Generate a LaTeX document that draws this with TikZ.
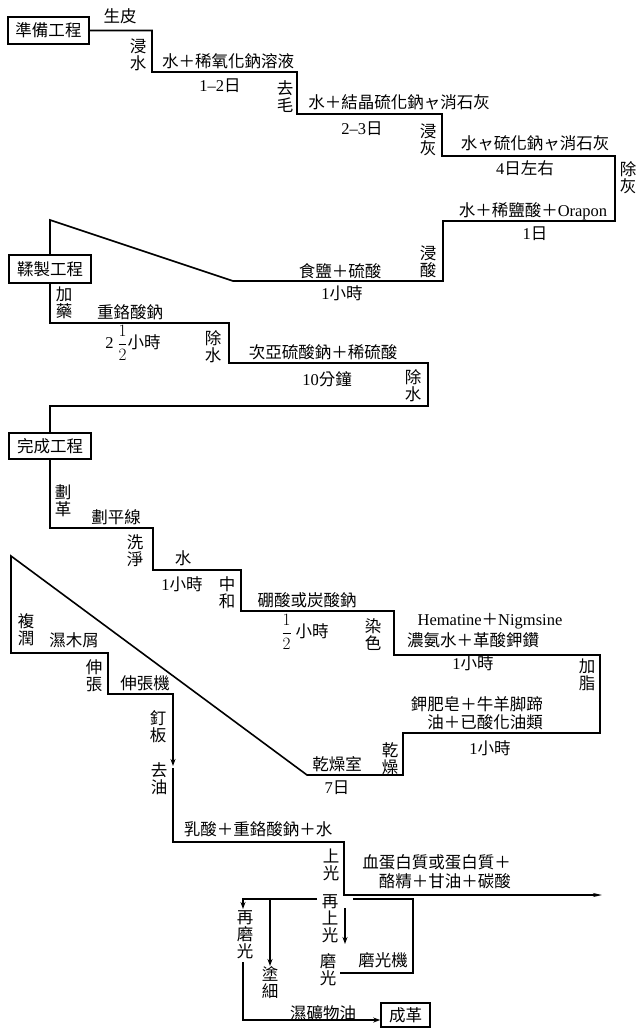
\documentclass[tikz,border=0pt]{standalone}
\usepackage{fontspec}
\setmainfont{Noto Sans CJK TC}
\newfontfamily\latf{Liberation Serif}
\usetikzlibrary{arrows.meta}
\begin{document}
\begin{tikzpicture}[x=1pt,y=-1pt,
  every node/.style={font=\fontsize{16.5}{17}\selectfont, inner sep=0pt},
  ln/.style={line width=1.6pt, line join=miter},
  arr/.style={ln, -{Stealth[length=7pt,width=5pt]}},
  procbox/.style={draw, line width=1.5pt, minimum height=27pt},
  vl/.style={align=center}]
\useasboundingbox (0,0) rectangle (638,1028);

% process boxes
\node[procbox, minimum width=81pt] (prep) at (48.5,30.5) {準備工程};
\node[procbox, minimum width=82pt, minimum height=28pt] (roll) at (50,269) {鞣製工程};
\node[procbox, minimum width=82pt, minimum height=26pt] (fin) at (50,446) {完成工程};
\node[procbox, minimum width=49pt, minimum height=24pt] (cheng) at (405.5,1015) {成革};

% main step lines
\draw[ln] (prep.east) -- (152,30.5) -- (152,72) -- (297,72) -- (297,114) -- (442,114)
  -- (442,156) -- (615,156) -- (615,221) -- (443,221) -- (443,281) -- (233,281)
  -- (50,220) -- (roll.north);
\draw[ln] (roll.south) -- (50,323) -- (229,323) -- (229,363) -- (428,363) -- (428,406)
  -- (50,406) -- (fin.north);
\draw[arr] (fin.south) -- (50,528) -- (153,528) -- (153,570) -- (241,570) -- (241,611)
  -- (394,611) -- (394,655) -- (600,655) -- (600,733) -- (403,733) -- (403,775)
  -- (307,775) -- (11,556) -- (11,653) -- (108,653) -- (108,694) -- (173,694) -- (173,766);
\draw[ln, -{Stealth[length=9pt,width=4pt]}] (173,768) -- (173,842) -- (344,842) -- (344,895) -- (602,895);

% lower branch
\draw[arr] (317,899) -- (243,899) -- (243,909);
\draw[arr] (270,899) -- (270,966);
\draw[ln] (353,899) -- (413,899) -- (413,973) -- (340,973);
\draw[arr] (345,908) -- (345,944);
\coordinate (q) at (243,1020);
\draw[arr] (243,962) -- (q) -- (q -| cheng.west);

% labels: preparation
\node (t1) at (120,16) {生皮};
\node[vl] (t2) at (138,55) {浸\\水};
\node (t3) at (228,61) {水＋稀氧化鈉溶液};
\node (t4) at (220,86) {{\latf 1–2}日};
\node[vl] (t5) at (285,97) {去\\毛};
\node (t6) at (399,102) {水＋結晶硫化鈉ャ消石灰};
\node (t7) at (362,129) {{\latf 2–3}日};
\node[vl] (t8) at (428,140) {浸\\灰};
\node (t9) at (535,143) {水ャ硫化鈉ャ消石灰};
\node (t10) at (525,168) {{\latf 4}日左右};
\node[vl] (t11) at (628,178) {除\\灰};
\node (t12) at (533,211) {水＋稀鹽酸＋{\latf Orapon}};
\node (t13) at (535,234) {{\latf 1}日};
\node[vl] (t14) at (428,262) {浸\\酸};
\node (t15) at (340,271) {食鹽＋硫酸};
\node (t16) at (342,293) {{\latf 1}小時};

% labels: tanning
\node[vl] (t17) at (64,303) {加\\藥};
\node (t18) at (130,312) {重鉻酸鈉};
\node (t19) at (133,343) {{\latf 2} $\displaystyle\frac{1}{2}$小時};
\node[vl] (t20) at (213,347) {除\\水};
\node (t21) at (323,352) {次亞硫酸鈉＋稀硫酸};
\node (t22) at (327,379) {{\latf 10}分鐘};
\node[vl] (t23) at (413,386) {除\\水};

% labels: finishing
\node[vl] (t24) at (63,501) {劃\\革};
\node (t25) at (116,517) {劃平線};
\node[vl] (t26) at (135,551) {洗\\淨};
\node (t27) at (183,558) {水};
\node (t28) at (182,584) {{\latf 1}小時};
\node[vl] (t29) at (227,593) {中\\和};
\node (t30) at (307,600) {硼酸或炭酸鈉};
\node (t31) at (305,632) {$\displaystyle\frac{1}{2}$ 小時};
\node[vl] (t32) at (373,635) {染\\色};
\node (t33) at (490,621) {{\latf Hematine}＋{\latf Nigmsine}};
\node (t34) at (473,640) {濃氨水＋革酸鉀鑽};
\node (t35) at (473,663) {{\latf 1}小時};
\node[vl] (t36) at (587,675) {加\\脂};
\node[anchor=east, align=right, font=\fontsize{16.5}{18}\selectfont] (t37) at (543,713) {鉀肥皂＋牛羊脚蹄\\油＋已酸化油類};
\node (t38) at (490,748) {{\latf 1}小時};
\node[vl] (t39) at (390,759) {乾\\燥};
\node (t40) at (337,764) {乾燥室};
\node (t41) at (337,788) {{\latf 7}日};
\node[vl] (t42) at (26,630) {複\\潤};
\node (t43) at (74,640) {濕木屑};
\node[vl] (t44) at (94,676) {伸\\張};
\node (t45) at (145,683) {伸張機};
\node[vl] (t46) at (158,727) {釘\\板};
\node[vl] (t47) at (159,779) {去\\油};
\node (t48) at (258,829) {乳酸＋重鉻酸鈉＋水};
\node[vl] (t49) at (331,865) {上\\光};
\node[anchor=east, align=right, font=\fontsize{16.5}{19}\selectfont] (t50) at (511,872) {血蛋白質或蛋白質＋\\酪精＋甘油＋碳酸};
\node[vl] (t51) at (330,919) {再\\上\\光};
\node[vl] (t52) at (245,935) {再\\磨\\光};
\node[vl] (t53) at (328,970) {磨\\光};
\node (t54) at (383,960) {磨光機};
\node[vl] (t55) at (270,983) {塗\\細};
\node (t56) at (323,1013) {濕礦物油};
\end{tikzpicture}
\end{document}
